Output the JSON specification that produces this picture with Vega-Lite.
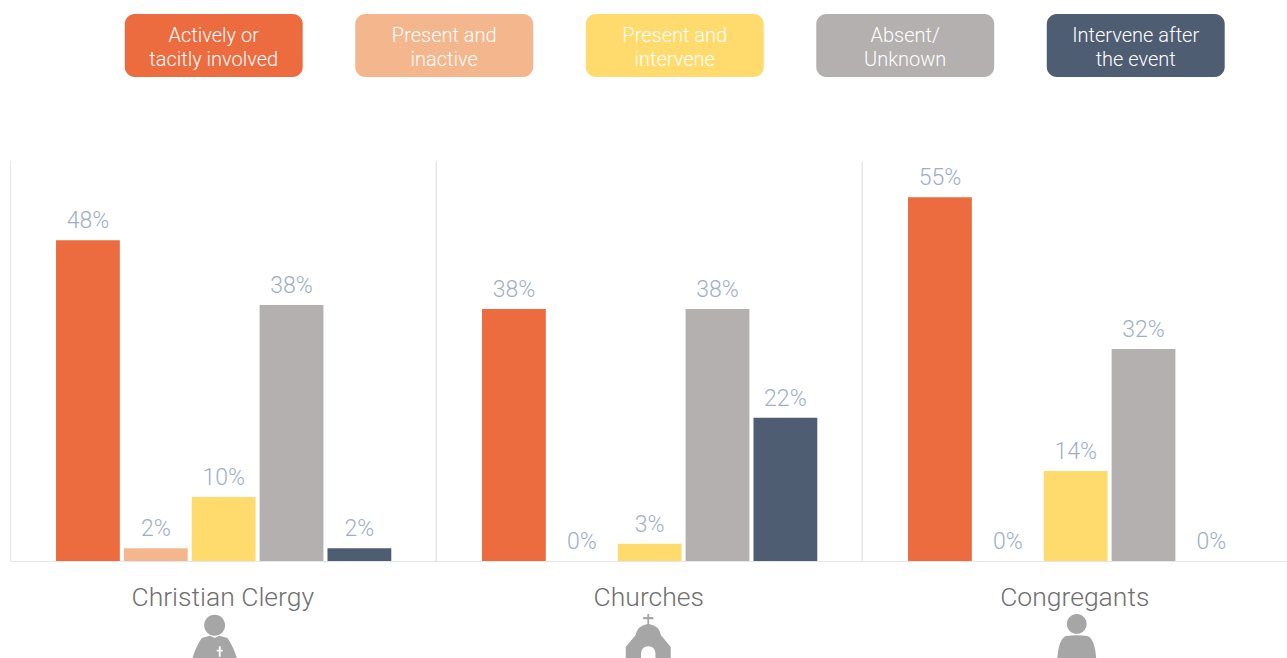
{
"$schema":"https://vega.github.io/schema/vega-lite/v6.json",
"padding":{"left":10,"top":14,"right":0,"bottom":0},
"background":"white",
"datasets":{
"legend":[
{"category":"Actively or tacitly involved","label":"Actively or\ntacitly involved"},
{"category":"Present and inactive","label":"Present and\ninactive"},
{"category":"Present and intervene","label":"Present and\nintervene"},
{"category":"Absent/Unknown","label":"Absent/\nUnknown"},
{"category":"Intervene after the event","label":"Intervene after\nthe event"}],
"rows":[
{"group":"Christian Clergy","category":"Actively or tacitly involved","value":0.481},
{"group":"Christian Clergy","category":"Present and inactive","value":0.019},
{"group":"Christian Clergy","category":"Present and intervene","value":0.096},
{"group":"Christian Clergy","category":"Absent/Unknown","value":0.384},
{"group":"Christian Clergy","category":"Intervene after the event","value":0.019},
{"group":"Churches","category":"Actively or tacitly involved","value":0.378},
{"group":"Churches","category":"Present and inactive","value":0},
{"group":"Churches","category":"Present and intervene","value":0.026},
{"group":"Churches","category":"Absent/Unknown","value":0.378},
{"group":"Churches","category":"Intervene after the event","value":0.215},
{"group":"Congregants","category":"Actively or tacitly involved","value":0.5455},
{"group":"Congregants","category":"Present and inactive","value":0},
{"group":"Congregants","category":"Present and intervene","value":0.135},
{"group":"Congregants","category":"Absent/Unknown","value":0.318},
{"group":"Congregants","category":"Intervene after the event","value":0}],
"icons":[{"group":"Christian Clergy"},{"group":"Churches"},{"group":"Congregants"}]
},
"config":{"view":{"stroke":null},"axis":{"grid":false}},
"spacing":84,
"vconcat":[
{
"data":{"name":"legend"},
"width":1276.5,"height":63,
"encoding":{
"x":{"field":"category","type":"nominal","sort":null,"axis":null,"scale":{"paddingInner":0.228,"paddingOuter":0.383,"align":0.65}}
},
"layer":[
{"mark":{"type":"bar","cornerRadius":10},
"encoding":{
"y":{"datum":1,"type":"quantitative","axis":null,"scale":{"domain":[0,1]}},
"color":{"field":"category","type":"nominal","legend":null,"scale":{"domain":["Actively or tacitly involved","Present and inactive","Present and intervene","Absent/Unknown","Intervene after the event"],"range":["#EC6B3F","#F4B68C","#FFDB6E","#B4B0AF","#4F5D73"]}}}},
{"mark":{"type":"text","color":"white","font":"Roboto","fontSize":20,"fontWeight":300,"lineBreak":"\n","lineHeight":24,"baseline":"middle","dy":-10},
"encoding":{"text":{"field":"label","type":"nominal"}}}
]
},
{
"spacing":0,
"vconcat":[
{
"data":{"name":"rows"},
"facet":{"field":"group","type":"nominal","sort":["Christian Clergy","Churches","Congregants"],
"header":{"title":null,"labelOrient":"bottom","labelFont":"Roboto","labelFontWeight":300,"labelFontSize":26.5,"labelColor":"#6f6f6f","labelPadding":24}},
"spacing":0,
"resolve":{"axis":{"x":"independent","y":"independent"},"scale":{"x":"shared","y":"shared"}},
"spec":{
"width":425.5,"height":400,
"encoding":{
"x":{"field":"category","type":"nominal","sort":["Actively or tacitly involved","Present and inactive","Present and intervene","Absent/Unknown","Intervene after the event"],
"scale":{"paddingInner":0.06,"paddingOuter":0.665,"align":0.51},
"axis":{"labels":false,"ticks":false,"title":null,"domainColor":"#e6e6e6"}},
"y":{"field":"value","type":"quantitative","scale":{"domain":[0,0.6]},
"axis":{"labels":false,"ticks":false,"title":null,"domainColor":"#e6e6e6","grid":false}}
},
"layer":[
{"mark":{"type":"bar"},
"encoding":{"color":{"field":"category","type":"nominal","legend":null,"scale":{"domain":["Actively or tacitly involved","Present and inactive","Present and intervene","Absent/Unknown","Intervene after the event"],"range":["#EC6B3F","#F4B68C","#FFDB6E","#B4B0AF","#4F5D73"]}}}},
{"mark":{"type":"text","font":"Roboto","fontWeight":300,"fontSize":23,"color":"#9FAEC7","dy":-19,"baseline":"middle"},
"encoding":{"text":{"field":"value","type":"quantitative","format":".0%"},
"y":{"field":"value","type":"quantitative","axis":{"orient":"right","labels":false,"ticks":false,"title":null,"domainColor":"#e6e6e6","grid":false}}}}
],
"resolve":{"axis":{"y":"independent"}}
}
},
{
"data":{"name":"icons"},
"width":1276.5,"height":48,
"mark":{"type":"point","filled":true,"clip":true,"opacity":1,"strokeWidth":0},
"encoding":{
"x":{"field":"group","type":"nominal","sort":null,"axis":null,"scale":{"type":"band","padding":0}},
"y":{"datum":0.395,"type":"quantitative","axis":null,"scale":{"domain":[0,1]}},
"size":{"value":3600},
"color":{"value":"#A6A6A6"},
"shape":{"field":"group","type":"nominal","legend":null,"scale":{"domain":["Christian Clergy","Churches","Congregants"],"range":[
"M-0.27,-0.88 A0.35,0.35 0 1 1 -0.27,-0.18 A0.35,0.35 0 1 1 -0.27,-0.88 Z M-0.7,-0.1 L-0.42,-0.18 L-0.27,-0.1 L-0.12,-0.18 L0.16,-0.1 Q0.36,0.2 0.48,0.6 L0.48,1 L-1.02,1 L-1.02,0.6 Q-0.9,0.2 -0.7,-0.1 Z M-0.13,0.17 L-0.13,0.29 L-0.2,0.29 L-0.2,0.35 L-0.13,0.35 L-0.13,0.52 L-0.07,0.52 L-0.07,0.35 L0,0.35 L0,0.29 L-0.07,0.29 L-0.07,0.17 Z",
"M-0.03,-0.9 L0.03,-0.9 L0.03,-0.8 L0.17,-0.8 L0.17,-0.73 L0.03,-0.73 L0.03,-0.57 Q0.38,-0.5 0.42,-0.2 L0.75,0.2 L0.75,1 L0.24,1 L0.24,0.4 Q0.22,0.17 0,0.17 Q-0.22,0.17 -0.24,0.4 L-0.24,1 L-0.75,1 L-0.75,0.2 L-0.42,-0.2 Q-0.38,-0.5 -0.03,-0.57 L-0.03,-0.73 L-0.17,-0.73 L-0.17,-0.8 L-0.03,-0.8 Z",
"M0.1,-0.9 A0.33,0.33 0 1 1 0.1,-0.24 A0.33,0.33 0 1 1 0.1,-0.9 Z M-0.25,-0.17 Q0.1,-0.22 0.45,-0.17 Q0.7,-0.1 0.75,0.6 L0.75,1 L-0.55,1 L-0.55,0.6 Q-0.5,-0.1 -0.25,-0.17 Z"
]}}
}
}
]
}
]
}
